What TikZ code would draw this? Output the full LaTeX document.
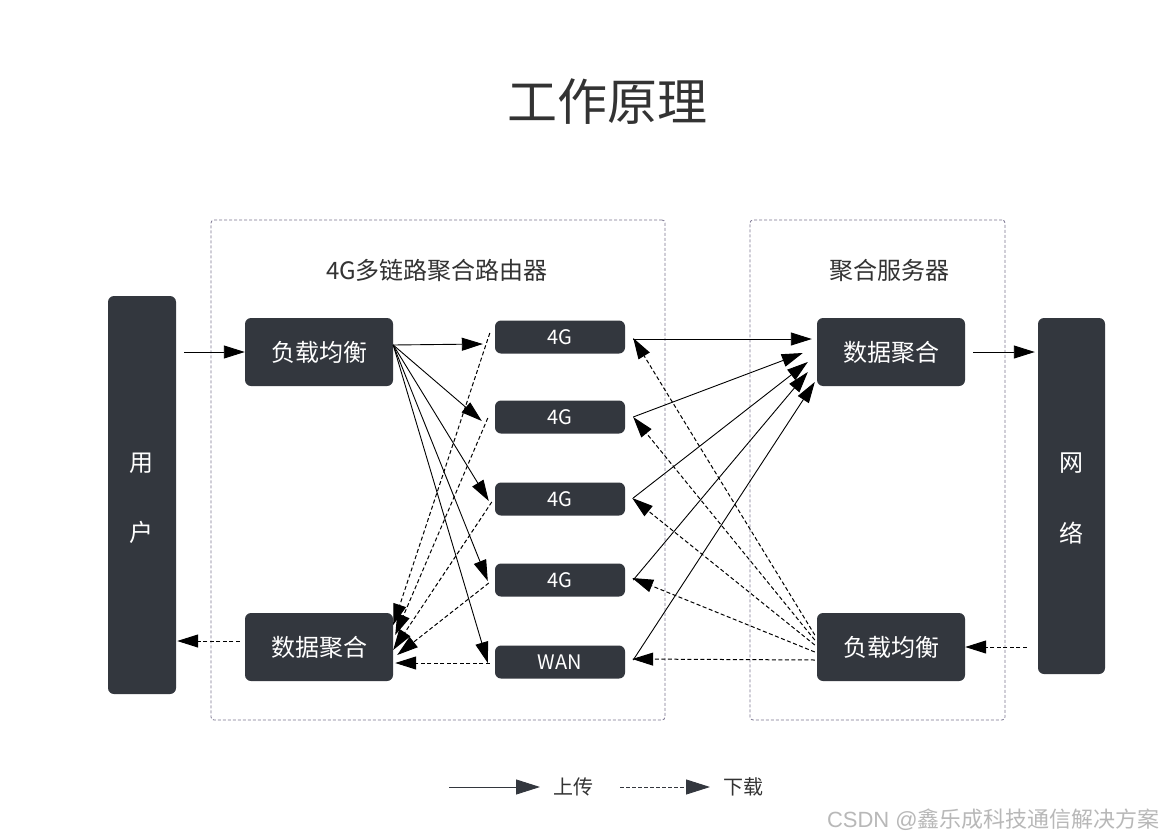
\documentclass[tikz,border=0pt]{standalone}
\usepackage{fontspec}
\setmainfont{Noto Sans CJK SC}
\newfontfamily\wmlatin{Liberation Sans}
\usetikzlibrary{arrows.meta}
\definecolor{boxc}{HTML}{33373E}
\definecolor{framec}{HTML}{7A7590}
\definecolor{txtc}{HTML}{333333}
\begin{document}
\begin{tikzpicture}[x=1pt,y=-1pt,
  darkbox/.style={fill=boxc, rounded corners=6pt, inner sep=0pt, text=white, font=\fontsize{24}{28}\selectfont},
  linkbox/.style={darkbox, minimum width=130pt, minimum height=33pt, font=\fontsize{20}{24}\selectfont},
  funcbox/.style={darkbox, minimum width=148pt, minimum height=68pt},
  upl/.style={-{Triangle[length=21pt,width=13pt]}, line width=0.9pt, black},
  downl/.style={upl, line width=1pt, dash pattern=on 4pt off 2.5pt},
  container/.style={draw=framec, dash pattern=on 3pt off 2pt, rounded corners=3pt, line width=0.8pt, inner sep=0pt},
  lbl/.style={text=txtc, font=\fontsize{24}{28}\selectfont},
  sidetxt/.style={text=white, font=\fontsize{24}{28}\selectfont},
  legup/.style={-{Triangle[length=24pt,width=15pt]}, line width=0.9pt, boxc},
  legdown/.style={legup, dash pattern=on 3.5pt off 2.5pt}]
\useasboundingbox (0,0) rectangle (1164,840);
\fill[white] (0,0) rectangle (1164,840);

% title
\node[text=txtc, font=\fontsize{50}{56}\selectfont] (title) at (607,102) {工作原理};

% containers
\node[container, minimum width=454pt, minimum height=500pt] (router) at (438,470) {};
\node[container, minimum width=255pt, minimum height=500pt] (server) at (877.5,470) {};
\node[lbl] (routerlbl) at (437,270) {4G多链路聚合路由器};
\node[lbl] (serverlbl) at (889,270) {聚合服务器};

% side boxes
\node[darkbox, minimum width=68pt, minimum height=398pt] (user) at (142,495) {};
\node[sidetxt] (userA) at (141,463) {用};
\node[sidetxt] (userB) at (141,532) {户};
\node[darkbox, minimum width=67pt, minimum height=356pt] (net) at (1071.5,496) {};
\node[sidetxt] (netA) at (1071,463) {网};
\node[sidetxt] (netB) at (1071,533) {络};

% function boxes
\node[funcbox] (lbL) at (319,352) {负载均衡};
\node[funcbox] (dpL) at (319,647) {数据聚合};
\node[funcbox] (dpR) at (891,352) {数据聚合};
\node[funcbox] (lbR) at (891,647) {负载均衡};

% link boxes
\node[linkbox] (g1) at (560,337) {4G};
\node[linkbox] (g2) at (560,417) {4G};
\node[linkbox] (g3) at (560,499) {4G};
\node[linkbox] (g4) at (560,580) {4G};
\node[linkbox] (wan) at (560,662) {WAN};

% user -> load balance
\draw[upl, shorten <=8pt] (user.east |- lbL.west) -- (lbL.west);
% load balance -> links
\draw[upl] ([yshift=7pt]lbL.east) -- ([xshift=-12pt,yshift=-7pt]g1.west);
\draw[upl] ([yshift=7pt]lbL.east) -- ([xshift=-13pt,yshift=-4pt]g2.west);
\draw[upl] ([yshift=7pt]lbL.east) -- ([xshift=-6pt,yshift=-2pt]g3.west);
\draw[upl] ([yshift=7pt]lbL.east) -- ([xshift=-7pt,yshift=-1pt]g4.west);
\draw[upl] ([yshift=7pt]lbL.east) -- ([xshift=-7pt,yshift=-1pt]wan.west);
% links -> data aggregation (left, download)
\draw[downl] ([xshift=-5pt,yshift=4pt]g1.west) -- ([yshift=22pt]dpL.east);
\draw[downl] ([xshift=-7pt,yshift=-1pt]g2.west) -- ([xshift=2pt,yshift=12pt]dpL.east);
\draw[downl] ([xshift=-3pt,yshift=-3pt]g3.west) -- ([yshift=-3pt]dpL.east);
\draw[downl] ([xshift=-6pt,yshift=-3pt]g4.west) -- ([xshift=4pt,yshift=-8pt]dpL.east);
\draw[downl] ([xshift=-5pt,yshift=-1pt]wan.west) -- ([xshift=2pt,yshift=-16pt]dpL.east);
% data aggregation -> user
\coordinate (dpLout) at ([xshift=-5pt,yshift=6pt]dpL.west);
\draw[downl] (dpLout) -- ([xshift=1pt]user.east |- dpLout);

% links -> data aggregation (right, upload)
\draw[upl] ([xshift=8pt,yshift=-2pt]g1.east) -- ([xshift=-5pt,yshift=13pt]dpR.west);
\draw[upl] ([xshift=8pt]g2.east) -- ([xshift=-14pt,yshift=-1pt]dpR.west);
\draw[upl] ([xshift=8pt,yshift=1pt]g3.east) -- ([xshift=-9pt,yshift=-10pt]dpR.west);
\draw[upl] ([xshift=8pt]g4.east) -- ([xshift=-9pt,yshift=-20pt]dpR.west);
\draw[upl] ([xshift=8pt,yshift=2pt]wan.east) -- ([xshift=-2pt,yshift=-30pt]dpR.west);
% data aggregation -> network
\draw[upl, shorten <=8pt, shorten >=3pt] (dpR.east) -- (net.west |- dpR.east);

% load balance (right) -> links (download)
\draw[downl] ([xshift=-2pt,yshift=12pt]lbR.west) -- ([xshift=8pt,yshift=-1pt]g1.east);
\draw[downl] ([xshift=-2pt,yshift=7pt]lbR.west) -- ([xshift=8pt]g2.east);
\draw[downl] ([xshift=-2pt,yshift=2pt]lbR.west) -- ([xshift=7pt,yshift=1pt]g3.east);
\draw[downl] ([xshift=-2pt,yshift=-5pt]lbR.west) -- ([xshift=7pt,yshift=2pt]g4.east);
\draw[downl] ([xshift=-2pt,yshift=-13pt]lbR.west) -- ([xshift=7pt,yshift=3pt]wan.east);
% network -> load balance
\draw[downl, shorten <=11pt] (net.west |- lbR.east) -- (lbR.east);

% legend
\coordinate (legA) at (449,787);
\coordinate (legB) at (540,787);
\coordinate (legC) at (620,787);
\coordinate (legD) at (710,787);
\draw[legup] (legA) -- (legB);
\node[text=txtc, font=\fontsize{20}{24}\selectfont] (legUp) at (573,787) {上传};
\draw[legdown] (legC) -- (legD);
\node[text=txtc, font=\fontsize{20}{24}\selectfont] (legDown) at (743,787) {下载};

% watermark
\node[anchor=east, text=black!28, font=\fontsize{22}{25}\selectfont, inner sep=0pt] (wm) at (1160,820) {{\wmlatin CSDN @}鑫乐成科技通信解决方案};
\end{tikzpicture}
\end{document}
